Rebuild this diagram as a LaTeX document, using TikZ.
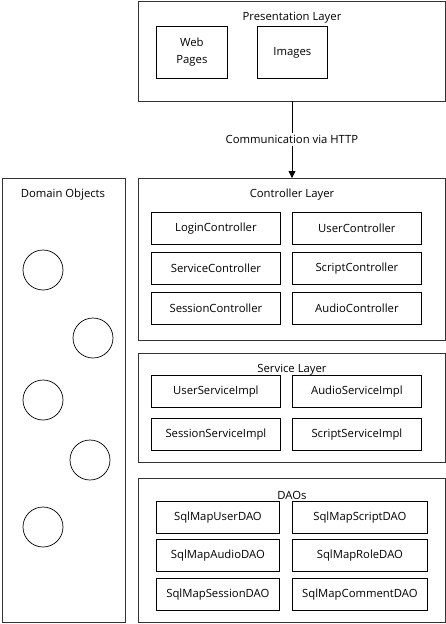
\documentclass[tikz,border=0pt]{standalone}
\usepackage{fontspec}
\setmainfont{Open Sans}
\usetikzlibrary{arrows.meta}
\begin{document}
\begin{tikzpicture}[x=1pt,y=-1pt,
  txt/.style={font=\fontsize{11.3}{17}\selectfont},
  layer/.style={draw=black!80,line width=0.9pt},
  item/.style={draw=black,line width=0.8pt,txt},
  ttl/.style={txt,inner sep=0pt,yshift=-1.5pt},
  obj/.style={draw=black,line width=0.7pt,circle,minimum size=40pt,inner sep=0pt}]
\useasboundingbox (0,0) rectangle (446,624);
% Presentation layer
\draw[layer] (138,1.5) rectangle (445,101);
\node[ttl] (pt) at (292,16) {Presentation Layer};
\node[item,align=center,minimum width=71pt,minimum height=52pt,anchor=north west] (web) at (156,26) {Web\\Pages};
\node[item,minimum width=70pt,minimum height=52pt,anchor=north west] (img) at (257,26) {Images};
\coordinate (pb) at (292,101);
% Controller layer
\draw[layer] (138,178) rectangle (445,340);
\coordinate (ct) at (292,178);
\node[ttl] (cl) at (292,193) {Controller Layer};
\draw[-{Triangle[length=7pt,width=7pt]},line width=0.8pt] (pb) -- node[fill=white,inner sep=2pt,txt] (comm) {Communication via HTTP} (ct);
\foreach \n/\t/\x/\y in {lc/LoginController/151/212, uc/UserController/292/212,
  sc/ServiceController/151/252, scc/ScriptController/292/252,
  sec/SessionController/151/292, ac/AudioController/292/292}{
  \node[item,minimum width=129pt,minimum height=32pt,anchor=north west] (\n) at (\x,\y) {\t};
}
% Service layer
\draw[layer] (138,353) rectangle (445,462);
\node[ttl] (sl) at (292,368) {Service Layer};
\foreach \n/\t/\x/\y in {usi/UserServiceImpl/151/375, asi/AudioServiceImpl/292/375,
  ssi/SessionServiceImpl/151/418, scsi/ScriptServiceImpl/292/418}{
  \node[item,minimum width=129pt,minimum height=32pt,anchor=north west] (\n) at (\x,\y) {\t};
}
% DAOs
\draw[layer] (138,478) rectangle (445,622.5);
\node[ttl] (dl) at (292,494) {DAOs};
\foreach \n/\t/\x/\y in {ud/SqlMapUserDAO/156/501, ad/SqlMapAudioDAO/156/539, sd/SqlMapSessionDAO/156/578}{
  \node[item,minimum width=123pt,minimum height=32pt,anchor=north west] (\n) at (\x,\y) {\t};
}
\foreach \n/\t/\x/\y in {scd/SqlMapScriptDAO/292/501, rd/SqlMapRoleDAO/292/539, cd/SqlMapCommentDAO/292/578}{
  \node[item,minimum width=135pt,minimum height=32pt,anchor=north west] (\n) at (\x,\y) {\t};
}
% Domain objects
\draw[layer] (2,178) rectangle (125,622.5);
\node[ttl] (dt) at (63,193) {Domain Objects};
\node[obj] (o1) at (43,270) {};
\node[obj] (o2) at (93,338) {};
\node[obj] (o3) at (43,400) {};
\node[obj] (o4) at (90,460) {};
\node[obj] (o5) at (43,527) {};
\end{tikzpicture}
\end{document}
